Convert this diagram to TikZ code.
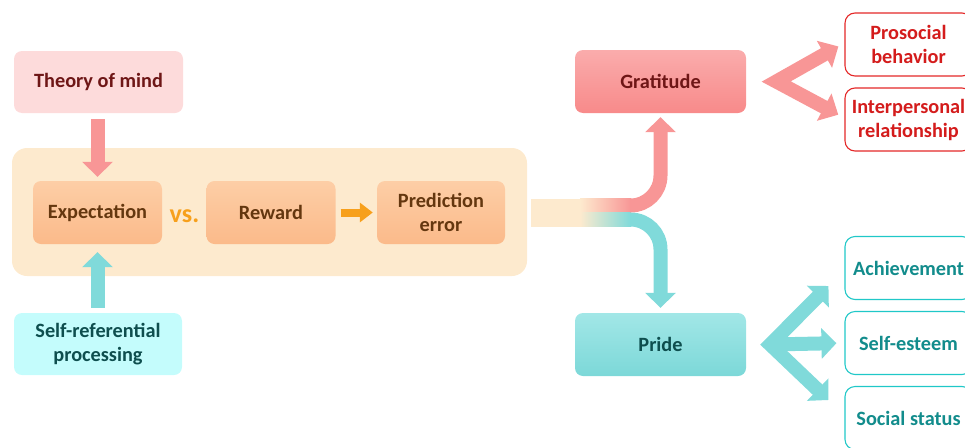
\documentclass[tikz,border=0pt]{standalone}
\usepackage{fontspec}
\setmainfont{Carlito}
\usetikzlibrary{arrows.meta, positioning}

\definecolor{peach}{RGB}{253,234,206}
\definecolor{expTop}{RGB}{253,206,166}
\definecolor{expBot}{RGB}{251,186,138}
\definecolor{expText}{RGB}{100,55,15}
\definecolor{vsOrange}{RGB}{247,160,28}
\definecolor{theoryFill}{RGB}{253,219,219}
\definecolor{redText}{RGB}{110,22,22}
\definecolor{gratTop}{RGB}{250,172,172}
\definecolor{gratBot}{RGB}{248,138,138}
\definecolor{pinkA}{RGB}{248,150,150}
\definecolor{selfFill}{RGB}{196,252,252}
\definecolor{tealText}{RGB}{14,78,78}
\definecolor{prideTop}{RGB}{162,231,231}
\definecolor{prideBot}{RGB}{124,216,216}
\definecolor{cyanA}{RGB}{128,218,218}
\definecolor{outRed}{RGB}{228,40,40}
\definecolor{outRedText}{RGB}{212,28,28}
\definecolor{outTeal}{RGB}{32,200,200}
\definecolor{outTealText}{RGB}{18,140,140}

\begin{document}
\begin{tikzpicture}[x=1pt, y=-1pt,
	lbl/.style={font=\fontsize{20.3}{24}\selectfont\bfseries, align=center},
	box/.style={lbl, rounded corners=8pt, minimum width=129pt, minimum height=63pt, inner sep=0pt},
	outbox/.style={lbl, rounded corners=10pt, line width=1.1pt, minimum width=127pt, minimum height=63pt, inner sep=0pt, fill=white},
	pinkarrow/.style={draw=pinkA, line width=14pt, -{Triangle[length=15pt, width=30pt]}},
	cyanarrow/.style={draw=cyanA, line width=14pt, -{Triangle[length=15pt, width=30pt]}}]
	\clip (0,0) rectangle (965,447);

	% Stage of comparison
	\node[rounded corners=15pt, fill=peach, minimum width=515pt, minimum height=128pt] (stage) at (269.5,212) {};
	\node[box, top color=expTop, bottom color=expBot, text=expText] (expect) at (97.5,212.5) {Expectation};
	\node[font=\fontsize{26}{30}\selectfont\bfseries, inner sep=0pt, text=vsOrange] (vs) at (184.5,216.5) {vs.};
	\node[box, top color=expTop, bottom color=expBot, text=expText] (reward) at (271,212.5) {Reward};
	\node[box, minimum width=128pt, top color=expTop, bottom color=expBot, text=expText] (prederr) at (441,212.5) {Prediction\\error};
	\draw[draw=vsOrange, line width=8pt, -{Triangle[length=13pt, width=19pt]}, shorten <=5pt, shorten >=4pt] (reward) -- (prederr);

	% Inputs
	\node[box, minimum width=169pt, minimum height=62pt, fill=theoryFill, text=redText] (theory) at (98.5,82) {Theory of mind};
	\node[box, minimum width=168pt, minimum height=62pt, fill=selfFill, text=tealText] (selfref) at (98,344) {Self-referential\\processing};
	\draw[pinkarrow, shorten <=6pt, shorten >=4pt] (theory.south -| expect) -- (expect.north);
	\draw[cyanarrow, shorten <=5pt, shorten >=8pt] (selfref.north -| expect) -- (expect.south);

	% Emotions
	\node[box, minimum width=171pt, top color=gratTop, bottom color=gratBot, text=redText] (grat) at (660.5,81.5) {Gratitude};
	\node[box, minimum width=171pt, top color=prideTop, bottom color=prideBot, text=tealText] (pride) at (660.5,344.5) {Pride};

	% Split band
	\coordinate (split) at (630,212.5);
	\fill[peach] (531,198.5) rectangle (582,226.5);
	\shade[left color=peach, right color=pinkA] (580,198.5) rectangle (631,212.5);
	\shade[left color=peach, right color=cyanA] (580,212.5) rectangle (631,226.5);
	\draw[pinkarrow, rounded corners=30pt, shorten >=4pt] ([yshift=7pt]split) -| (grat.south);
	\draw[cyanarrow, rounded corners=30pt, shorten >=5pt] ([yshift=-7pt]split) -| (pride.north);

	% Outcomes
	\node[outbox, draw=outRed, text=outRedText] (prosocial) at (908.5,44.5) {Prosocial\\behavior};
	\node[outbox, draw=outRed, text=outRedText] (interp) at (908.5,119.5) {Interpersonal\\relationship};
	\node[outbox, draw=outTeal, text=outTealText] (achieve) at (908.5,268) {Achievement};
	\node[outbox, draw=outTeal, text=outTealText] (esteem) at (908.5,343) {Self-esteem};
	\node[outbox, draw=outTeal, text=outTealText] (status) at (908.5,418) {Social status};

	% Branching arrows
	\coordinate (gv) at ([xshift=30pt]grat.east);
	\draw[pinkarrow, {Triangle[length=16pt, width=30pt]}-{Triangle[length=16pt, width=30pt]}, line join=miter, shorten <=7pt, shorten >=7pt] ([yshift=1.5pt]prosocial.west) -- (gv) -- ([yshift=1.5pt]interp.west);
	\coordinate (pv) at ([xshift=24pt]pride.east);
	\draw[cyanarrow, {Triangle[length=15pt, width=30pt]}-{Triangle[length=15pt, width=30pt]}, line join=miter] ([shift={(-16,18)}]achieve.west) -- (pv) -- ([shift={(-16,-18)}]status.west);
	\draw[cyanarrow, shorten >=8pt] (pv) -- (esteem.west);
\end{tikzpicture}
\end{document}
